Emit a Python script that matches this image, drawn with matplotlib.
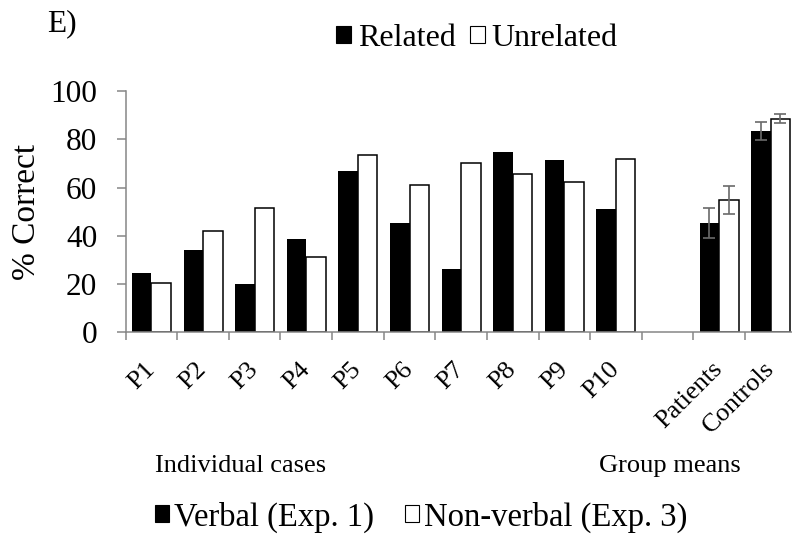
import matplotlib
matplotlib.use("Agg")
import matplotlib.pyplot as plt
from matplotlib.patches import Patch
import numpy as np

plt.rcParams['font.family'] = ['Liberation Serif', 'DejaVu Serif']

# data
cases = ['P1', 'P2', 'P3', 'P4', 'P5', 'P6', 'P7', 'P8', 'P9', 'P10']
groups = ['Patients', 'Controls']
related_cases = [24.7, 34.1, 20.2, 38.8, 67.0, 45.1, 26.2, 74.8, 71.5, 51.3]
unrelated_cases = [20.3, 42.1, 51.6, 31.2, 73.3, 60.9, 70.3, 65.5, 62.5, 71.8]
related_groups = [45.3, 83.4]
unrelated_groups = [54.9, 88.5]
related_err = [6.4, 3.8]
unrelated_err = [5.8, 1.8]

axis_grey = '#868686'
err_grey = '#6a6a6a'

fig = plt.figure(figsize=(7.92, 5.36), dpi=100)
ax = fig.add_axes([0.1587, 0.380, 0.847, 0.4502])

w = 0.377
x_cases = np.arange(len(cases))
x_groups = np.arange(len(groups)) + len(cases) + 1

ax.bar(x_cases - w / 2, related_cases, w, color='black', edgecolor='black', linewidth=0)
ax.bar(x_cases + w / 2, unrelated_cases, w, color='white', edgecolor='black', linewidth=1.1)
ax.bar(x_groups - w / 2, related_groups, w, color='black', edgecolor='black', linewidth=0)
ax.bar(x_groups + w / 2, unrelated_groups, w, color='white', edgecolor='black', linewidth=1.1)
ax.errorbar(x_groups - w / 2, related_groups, yerr=related_err, fmt='none',
            ecolor=err_grey, elinewidth=1.2, capsize=4.6, capthick=1.2)
ax.errorbar(x_groups + w / 2, unrelated_groups, yerr=unrelated_err, fmt='none',
            ecolor=err_grey, elinewidth=1.2, capsize=4.6, capthick=1.2)

n = len(cases) + 1 + len(groups)
ax.set_xlim(-0.5, n - 0.5)
ax.set_ylim(0, 100)
ax.set_yticks(range(0, 101, 20))

# tick marks between categories, labels at the centres
ax.set_xticks(np.arange(n + 1) - 0.5)
ax.set_xticklabels([])
ax.set_xticks(np.arange(n), minor=True)
ax.set_xticklabels(cases + [''] + groups, minor=True, rotation=45,
                   ha='right', va='center', rotation_mode='anchor', fontsize=19)
ax.tick_params(axis='x', which='major', direction='out', length=5.8, width=1.1, color=axis_grey)
ax.tick_params(axis='x', which='minor', length=0, pad=24)
ax.tick_params(axis='y', direction='out', length=6.5, width=1.1, color=axis_grey,
               labelsize=22.5, pad=14)

for s in ['top', 'right']:
    ax.spines[s].set_visible(False)
for s in ['left', 'bottom']:
    ax.spines[s].set_color(axis_grey)
    ax.spines[s].set_linewidth(1.1)

ax.set_ylabel('% Correct', fontsize=24)
ax.yaxis.set_label_coords(-0.125, 0.5)

fig.text(46.7 / 792, 1 - 31.7 / 536, 'E)', fontsize=22.5, ha='left', va='baseline')
fig.text(241 / 792, 1 - 471.7 / 536, 'Individual cases', fontsize=19, ha='center', va='baseline')
fig.text(669.5 / 792, 1 - 471.7 / 536, 'Group means', fontsize=19, ha='center', va='baseline')

handles = [Patch(facecolor='black', edgecolor='black', linewidth=0.8),
           Patch(facecolor='white', edgecolor='black', linewidth=0.8)]
fig.legend(handles, ['Related', 'Unrelated'], loc='center', ncol=2,
           bbox_to_anchor=(477 / 792, 1 - 38.5 / 536), frameon=False, fontsize=23,
           handlelength=0.47, handleheight=0.47, handletextpad=0.2,
           columnspacing=0.45, borderpad=0, borderaxespad=0)
fig.legend(handles, ['Verbal (Exp. 1)', 'Non-verbal (Exp. 3)'], loc='center', ncol=2,
           bbox_to_anchor=(421.5 / 792, 1 - 517 / 536), frameon=False, fontsize=23.5,
           handlelength=0.42, handleheight=0.42, handletextpad=0.16,
           columnspacing=0.95, borderpad=0, borderaxespad=0)

fig.savefig('out.png', dpi=100)
